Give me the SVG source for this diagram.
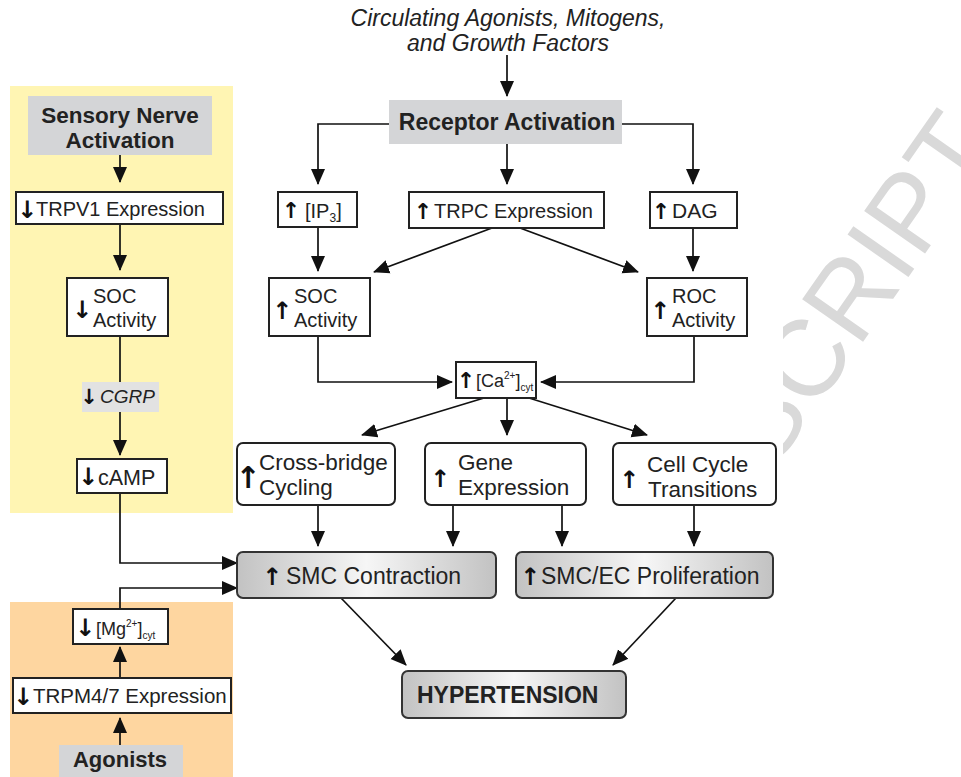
<svg xmlns="http://www.w3.org/2000/svg" width="961" height="777" viewBox="0 0 961 777">
<defs>
<marker id="ah" viewBox="0 0 16 16" markerWidth="16" markerHeight="16" refX="15" refY="8" orient="auto" markerUnits="userSpaceOnUse">
<path d="M0,1 L16,8 L0,15 z" fill="#111"/>
</marker>
<linearGradient id="gr" x1="0" y1="0" x2="1" y2="0">
<stop offset="0" stop-color="#c2c2c2"/>
<stop offset="0.5" stop-color="#f6f6f6"/>
<stop offset="1" stop-color="#c2c2c2"/>
</linearGradient>
<clipPath id="wmclip"><rect x="783" y="0" width="178" height="777"/></clipPath>
</defs>
<style>
text{font-family:"Liberation Sans",Arial,sans-serif;fill:#222;}
.b{font-weight:bold;}
.i{font-style:italic;}
.ga{font-family:"DejaVu Sans",sans-serif;font-weight:bold;text-anchor:middle;fill:#111;}
.box{fill:#fff;stroke:#222;stroke-width:2;}
.gbox{fill:url(#gr);stroke:#333;stroke-width:2;}
.gray{fill:#d4d5d7;}
.c{text-anchor:middle;}
#connectors path{fill:none;stroke:#111;stroke-width:1.7;}
#connectors path.a{marker-end:url(#ah);}
</style>
<rect width="961" height="777" fill="#fff"/>
<g id="watermark" clip-path="url(#wmclip)">
<text x="772" y="472" font-size="108" transform="rotate(-55 772 472)" style="fill:#d9d9d9">SCRIPT</text>
</g>
<rect x="10" y="86" width="223" height="427" fill="#fff5b3"/>
<rect x="10" y="602" width="223" height="175" fill="#fed6a0"/>

<g id="connectors">
<path class="a" d="M507,55 V96"/>
<path class="a" d="M389,124 H318 V184"/>
<path class="a" d="M507,144 V184"/>
<path class="a" d="M622,124 H693 V184"/>
<path class="a" d="M318,227 V271"/>
<path class="a" d="M492,228 L374,272"/>
<path class="a" d="M520,228 L638,272"/>
<path class="a" d="M693,228 V271"/>
<path class="a" d="M318,336 V382 H452"/>
<path class="a" d="M694,336 V382 H541"/>
<path class="a" d="M484,398 L362,435"/>
<path class="a" d="M507,398 V435"/>
<path class="a" d="M529,398 L647,435"/>
<path class="a" d="M318,505 V546"/>
<path class="a" d="M453,505 V546"/>
<path class="a" d="M562,505 V546"/>
<path class="a" d="M694,505 V546"/>
<path class="a" d="M341,598 L406,665"/>
<path class="a" d="M676,598 L613,665"/>
<path class="a" d="M120,155 V182"/>
<path class="a" d="M120,224 V270"/>
<path d="M120,336 V382"/>
<path class="a" d="M120,412 V455"/>
<path class="a" d="M120,493 V563 H237"/>
<path class="a" d="M120,609 V588 H237"/>
<path class="a" d="M120,678 V647"/>
<path class="a" d="M120,745 V718"/>
</g>

<g id="n-circulating">
<text class="i c" x="508" y="26" font-size="23">Circulating Agonists, Mitogens,</text>
<text class="i c" x="508" y="51" font-size="23">and Growth Factors</text>
</g>
<g id="n-receptor">
<rect class="gray" x="389" y="100" width="233" height="44"/>
<text class="b c" x="507" y="130" font-size="23">Receptor Activation</text>
</g>
<g id="n-ip3">
<rect class="box" x="278" y="192" width="79" height="35"/>
<text class="ga" x="291" y="218" font-size="22">↑</text>
<text x="305" y="218" font-size="20">[IP<tspan font-size="12" dy="4">3</tspan><tspan dy="-4">]</tspan></text>
</g>
<g id="n-trpc">
<rect class="box" x="409" y="192" width="195" height="36"/>
<text class="ga" x="423" y="219" font-size="22">↑</text>
<text x="434" y="218" font-size="20">TRPC Expression</text>
</g>
<g id="n-dag">
<rect class="box" x="650" y="192" width="87" height="36"/>
<text class="ga" x="661" y="219" font-size="22">↑</text>
<text x="672" y="218" font-size="21">DAG</text>
</g>
<g id="n-soc">
<rect class="box" x="269" y="278" width="101" height="58"/>
<text class="ga" x="282" y="319" font-size="24">↑</text>
<text x="294" y="303" font-size="20">SOC</text>
<text x="294" y="327" font-size="20">Activity</text>
</g>
<g id="n-roc">
<rect class="box" x="647" y="278" width="100" height="58"/>
<text class="ga" x="660" y="319" font-size="24">↑</text>
<text x="672" y="303" font-size="20">ROC</text>
<text x="672" y="327" font-size="20">Activity</text>
</g>
<g id="n-ca">
<rect class="box" x="456" y="362" width="80" height="36"/>
<text class="ga" x="466" y="388" font-size="22">↑</text>
<text x="476" y="387" font-size="18">[Ca<tspan font-size="10" dy="-8">2+</tspan><tspan dy="8">]</tspan><tspan font-size="10" dy="4">cyt</tspan></text>
</g>
<g id="n-crossbridge">
<rect class="box" x="237" y="443" width="158" height="62" rx="6"/>
<text class="ga" x="248" y="488" font-size="30">↑</text>
<text x="259" y="470" font-size="22.5">Cross-bridge</text>
<text x="259" y="495" font-size="22.5">Cycling</text>
</g>
<g id="n-gene">
<rect class="box" x="425" y="443" width="161" height="62" rx="6"/>
<text class="ga" x="440" y="487" font-size="24">↑</text>
<text x="458" y="470" font-size="22.5">Gene</text>
<text x="458" y="495" font-size="22.5">Expression</text>
</g>
<g id="n-cellcycle">
<rect class="box" x="613" y="443" width="163" height="62" rx="6"/>
<text class="ga" x="629" y="488" font-size="24">↑</text>
<text x="647" y="472" font-size="22.5">Cell Cycle</text>
<text x="648" y="497" font-size="22.5">Transitions</text>
</g>
<g id="n-smccontraction">
<rect class="gbox" x="237" y="552" width="259" height="46" rx="6"/>
<text class="ga" x="272" y="585" font-size="24">↑</text>
<text x="286" y="584" font-size="23">SMC Contraction</text>
</g>
<g id="n-smcproliferation">
<rect class="gbox" x="516" y="552" width="257" height="46" rx="6"/>
<text class="ga" x="530" y="585" font-size="24">↑</text>
<text x="541" y="584" font-size="23">SMC/EC Proliferation</text>
</g>
<g id="n-hypertension">
<rect class="gbox" x="402" y="671" width="224" height="47" rx="6"/>
<text class="b" x="417" y="703" font-size="23">HYPERTENSION</text>
</g>

<g id="n-sensory">
<rect class="gray" x="28" y="96" width="184" height="59"/>
<text class="b c" x="120" y="123" font-size="22.5">Sensory Nerve</text>
<text class="b c" x="120" y="148" font-size="22.5">Activation</text>
</g>
<g id="n-trpv1">
<rect class="box" x="16" y="192" width="207" height="32"/>
<text class="ga" x="27" y="218" font-size="24">↓</text>
<text x="36" y="216" font-size="20">TRPV1 Expression</text>
</g>
<g id="n-soc-left">
<rect class="box" x="67" y="278" width="101" height="58"/>
<text class="ga" x="82" y="318" font-size="24">↓</text>
<text x="93" y="303" font-size="20">SOC</text>
<text x="93" y="327" font-size="20">Activity</text>
</g>
<g id="n-cgrp">
<rect x="82" y="382" width="77" height="30" fill="#e2e2e2"/>
<text class="ga" x="89" y="404" font-size="21">↓</text>
<text class="i" x="100" y="403" font-size="19">CGRP</text>
</g>
<g id="n-camp">
<rect class="box" x="77" y="459" width="90" height="34"/>
<text class="ga" x="88" y="485" font-size="24">↓</text>
<text x="98" y="485" font-size="21.5">cAMP</text>
</g>
<g id="n-mg">
<rect class="box" x="73" y="609" width="95" height="35"/>
<text class="ga" x="85" y="636" font-size="24">↓</text>
<text x="96" y="635" font-size="18">[Mg<tspan font-size="10" dy="-8">2+</tspan><tspan dy="8">]</tspan><tspan font-size="10" dy="4">cyt</tspan></text>
</g>
<g id="n-trpm">
<rect class="box" x="13" y="678" width="218" height="35"/>
<text class="ga" x="23" y="705" font-size="24">↓</text>
<text x="33" y="703" font-size="20.5">TRPM4/7 Expression</text>
</g>
<g id="n-agonists">
<rect class="gray" x="59" y="745" width="124" height="40"/>
<text class="b c" x="120" y="767" font-size="22">Agonists</text>
</g>
</svg>
